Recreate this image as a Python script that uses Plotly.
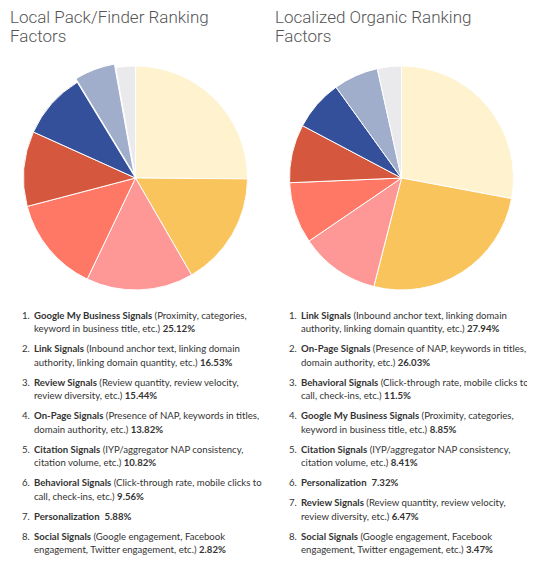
import plotly.graph_objects as go

# la pagina html ha un margine di 8px sul body: la figura parte da (8, 8)
OFF = 8
W, H = 535 - OFF, 569 - 2 * OFF

# dati: fattori di ranking locali (sinistra) e organici localizzati (destra)
titolo_sx = ["Local Pack/Finder Ranking", "Factors"]
titolo_dx = ["Localized Organic Ranking", "Factors"]

nomi_sx = ["Google My Business Signals", "Link Signals", "Review Signals", "On-Page Signals",
           "Citation Signals", "Behavioral Signals", "Personalization", "Social Signals"]
valori_sx = [25.12, 16.53, 15.44, 13.82, 10.82, 9.56, 5.88, 2.82]
etichette_sx = ["25.12%", "16.53%", "15.44%", "13.82%", "10.82%", "9.56%", "5.88%", "2.82%"]
desc_sx = ["(Proximity, categories,|keyword in business title, etc.)",
           "(Inbound anchor text, linking domain|authority, linking domain quantity, etc.)",
           "(Review quantity, review velocity,|review diversity, etc.)",
           "(Presence of NAP, keywords in titles,|domain authority, etc.)",
           "(IYP/aggregator NAP consistency,|citation volume, etc.)",
           "(Click-through rate, mobile clicks to|call, check-ins, etc.)",
           "",
           "(Google engagement, Facebook|engagement, Twitter engagement, etc.)"]

nomi_dx = ["Link Signals", "On-Page Signals", "Behavioral Signals", "Google My Business Signals",
           "Citation Signals", "Personalization", "Review Signals", "Social Signals"]
valori_dx = [27.94, 26.03, 11.5, 8.85, 8.41, 7.32, 6.47, 3.47]
etichette_dx = ["27.94%", "26.03%", "11.5%", "8.85%", "8.41%", "7.32%", "6.47%", "3.47%"]
desc_dx = ["(Inbound anchor text, linking domain|authority, linking domain quantity, etc.)",
           "(Presence of NAP, keywords in titles,|domain authority, etc.)",
           "(Click-through rate, mobile clicks to|call, check-ins, etc.)",
           "(Proximity, categories,|keyword in business title, etc.)",
           "(IYP/aggregator NAP consistency,|citation volume, etc.)",
           "",
           "(Review quantity, review velocity,|review diversity, etc.)",
           "(Google engagement, Facebook|engagement, Twitter engagement, etc.)"]

colori = ["#FEF2CF", "#FAC45C", "#FE9896", "#FE7865", "#D5573D", "#34509A", "#A1AECB", "#EAE9EB"]
pull_sx = [0, 0, 0, 0, 0, 0, 0.035, 0]


def px_x(x):
    return (x - OFF) / W


def px_y(y):
    return 1 - (y - OFF) / H


def dominio(cx, cy, r, pull):
    # domain in coordinate paper a partire dal centro e raggio in pixel della pagina
    half = r * (1 + pull)
    return dict(x=[px_x(cx - half), px_x(cx + half)],
                y=[px_y(cy + half), px_y(cy - half)])


fig = go.Figure()

fig.add_trace(go.Pie(
    labels=nomi_sx, values=valori_sx, sort=False, direction="clockwise", rotation=0,
    marker=dict(colors=colori, line=dict(color="white", width=1)),
    pull=pull_sx, textinfo="none", showlegend=False,
    domain=dominio(135.5, 178, 112, max(pull_sx))
))
fig.add_trace(go.Pie(
    labels=nomi_dx, values=valori_dx, sort=False, direction="clockwise", rotation=0,
    marker=dict(colors=colori, line=dict(color="white", width=1)),
    textinfo="none", showlegend=False,
    domain=dominio(401.5, 178, 112, 0)
))

annotazioni = []
for x0, titolo in [(9, titolo_sx), (274, titolo_dx)]:
    for k, riga in enumerate(titolo):
        annotazioni.append(dict(x=px_x(x0), y=px_y(17 + k * 18.5), xref="paper", yref="paper",
                                xanchor="left", yanchor="middle", showarrow=False,
                                text=riga, borderpad=0,
                                font=dict(family="Roboto", size=17, color="#555555", weight=300)))

font_lista = dict(family="Lato", size=9.6, color="#333333")

# liste numerate sotto le torte, una annotazione per riga
for x_num, nomi, desc, etich in [(31, nomi_sx, desc_sx, etichette_sx),
                                  (298, nomi_dx, desc_dx, etichette_dx)]:
    y = 315
    for i, (nome, d, e) in enumerate(zip(nomi, desc, etich)):
        if d:
            r0, r1 = d.split("|")
            righe = [f"<b>{nome}</b> {r0}", f"{r1} <b>{e}</b>"]
        else:
            righe = [f"<b>{nome}</b>&nbsp; <b>{e}</b>"]
        annotazioni.append(dict(x=px_x(x_num), y=px_y(y), xref="paper", yref="paper",
                                xanchor="right", yanchor="middle", showarrow=False, borderpad=0,
                                text=f"{i + 1}.", font=font_lista))
        for riga in righe:
            annotazioni.append(dict(x=px_x(x_num + 2), y=px_y(y), xref="paper", yref="paper",
                                    xanchor="left", yanchor="middle", showarrow=False,
                                    borderpad=0, text=riga, font=font_lista))
            y += 13.5
        y += 6.5

fig.update_layout(
    width=W, height=H,
    margin=dict(l=0, r=0, t=0, b=0),
    paper_bgcolor="white", plot_bgcolor="white",
    annotations=annotazioni
)

fig.write_html("out.html")
